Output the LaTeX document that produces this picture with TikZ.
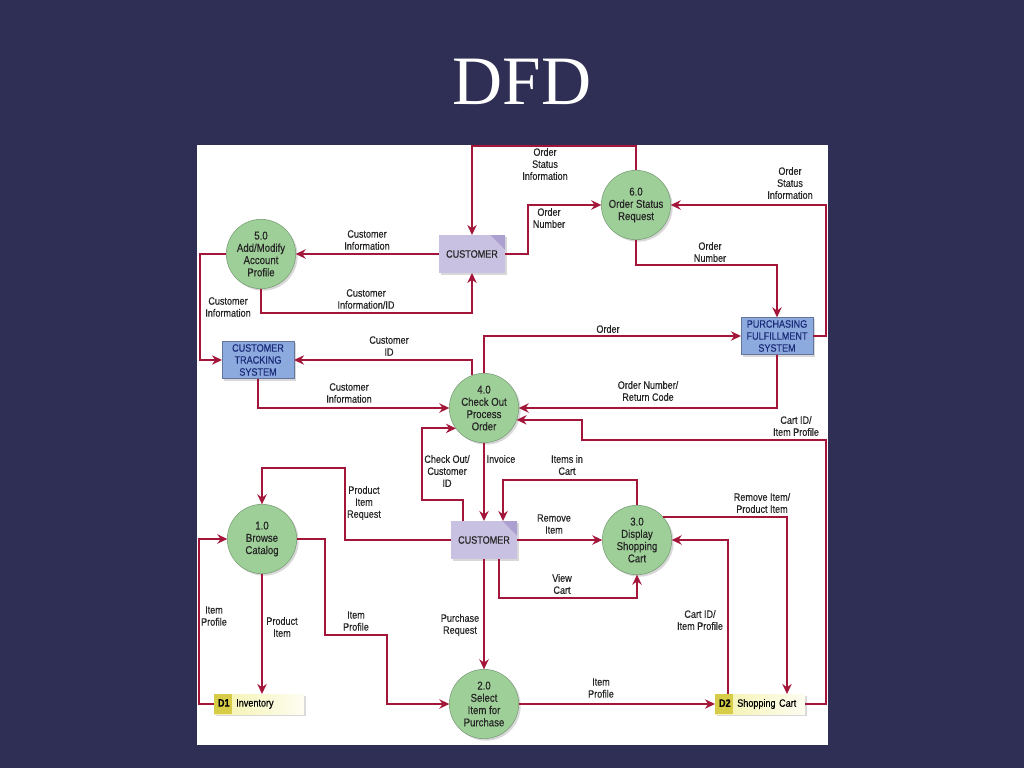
\documentclass[tikz,border=0pt]{standalone}
\usepackage{fontspec}
\usetikzlibrary{arrows.meta,calc,shadows}
\newfontfamily\dfdfont[FakeStretch=0.85,FakeBold=0.35]{Liberation Sans}
\newfontfamily\titlefont{Liberation Serif}

\definecolor{slide}{RGB}{47,46,84}
\definecolor{flowred}{RGB}{163,22,58}
\definecolor{procgreen}{RGB}{158,207,152}
\definecolor{entlilac}{RGB}{201,193,225}
\definecolor{entfold}{RGB}{172,160,208}
\definecolor{sysblue}{RGB}{140,170,222}
\definecolor{sysnavy}{RGB}{28,42,120}
\definecolor{storeyel}{RGB}{244,242,170}
\definecolor{storetab}{RGB}{214,204,72}

\tikzset{
  dfdtext/.style={font=\dfdfont\fontsize{8}{9}\selectfont},
  process/.style={circle, fill=procgreen, draw=procgreen!75!black, line width=0.4pt,
    minimum size=52pt, inner sep=0pt, outer sep=0pt, align=center,
    font=\dfdfont\fontsize{8.5}{9.2}\selectfont, text=black!85,
    drop shadow={shadow xshift=1.5pt, shadow yshift=-1.5pt, opacity=0.3}},
  entity/.style={rectangle, fill=entlilac, minimum width=49.5pt, minimum height=28.5pt,
    inner sep=0pt, outer sep=0pt, dfdtext, text=black!85,
    drop shadow={shadow xshift=1.5pt, shadow yshift=-1.5pt, opacity=0.3},
    path picture={\fill[entfold] (path picture bounding box.north east) -- ++(-11pt,0) -- ++(11pt,-11pt) -- cycle;}},
  extsys/.style={rectangle, fill=sysblue, draw=sysblue!70!black, line width=0.4pt,
    minimum width=54pt, minimum height=28pt, inner sep=0pt, outer sep=0pt,
    align=center, dfdtext, text=sysnavy,
    drop shadow={shadow xshift=1.5pt, shadow yshift=-1.5pt, opacity=0.3}},
  store/.style={rectangle, left color=storeyel, right color=storeyel!15, minimum width=67.5pt,
    minimum height=15pt, text width=61.5pt, inner xsep=3pt, inner ysep=0pt, outer sep=0pt,
    align=left, dfdtext,
    drop shadow={shadow xshift=1.5pt, shadow yshift=-1.5pt, opacity=0.3},
    path picture={\fill[storetab] (path picture bounding box.north west) rectangle ([xshift=13.5pt]path picture bounding box.south west);}},
  flow/.style={draw=flowred, line width=1.6pt, -{Stealth[length=7.5pt,width=7pt]}},
  flowlbl/.style={align=center, inner sep=0pt, dfdtext, text=black!85}
}

\begin{document}
\begin{tikzpicture}[x=0.75pt, y=-0.75pt]
    % slide and panel
    \fill[slide] (0,0) rectangle (1024,768);
    \useasboundingbox (0,0) rectangle (1024,768);
    \fill[white] (197,145) rectangle (828,745);
    \node[font=\titlefont\fontsize{52}{60}\selectfont, text=white] (title) at (522,82) {DFD};

    % Processes
    \node[process] (p5) at (261,254) {5.0\\Add/Modify\\Account\\Profile};
    \node[process] (p6) at (636,205) {6.0\\Order Status\\Request};
    \node[process] (p4) at (484,408) {4.0\\Check Out\\Process\\Order};
    \node[process] (p1) at (262,539) {1.0\\Browse\\Catalog};
    \node[process] (p3) at (637,540) {3.0\\Display\\Shopping\\Cart};
    \node[process] (p2) at (484,704) {2.0\\Select\\Item for\\Purchase};

    % Entities and systems
    \node[entity] (cust1) at (472,254) {CUSTOMER};
    \node[entity] (cust2) at (484,540) {CUSTOMER};
    \node[extsys] (pfs) at (777,336) {PURCHASING\\FULFILLMENT\\SYSTEM};
    \node[extsys] (cts) at (258,360) {CUSTOMER\\TRACKING\\SYSTEM};

    % Data stores
    \node[store] (d1) at (259,704) {\textbf{D1}\hspace{5pt}Inventory};
    \node[store] (d2) at (760,704) {\textbf{D2}\hspace{5pt}Shopping~Cart};

    % Flows, upper half
    \draw[flow] (p6.north) -- (636,146) -| (cust1.north);
    \draw[flow] (cust1.east) -- (528,254) |- (p6.west);
    \draw[flow] (cust1.west) -- (p5.east);
    \draw[flow] (p5.south) -- (261,313) -| (cust1.south);
    \draw[flow] (p5.west) -- (200,254) |- (cts.west);
    \draw[flow] (p6.south) -- (636,265) -| (pfs.north);
    \draw[flow] (pfs.east) -- (826,336) |- (p6.east);
    \draw[flow] (p4.north) |- (pfs.west);
    \draw[flow] (p4.110) |- (cts.east);
    \draw[flow] (cts.south) |- (p4.west);
    \draw[flow] (pfs.south) |- (p4.east);
    \draw[flow] (d2.east) -| (826,440) -- (582,440) |- (p4.-20);
    \draw[flow] ($(cust2.north)+(-21,0)$) -- (463,500) -- (422,500) |- (p4.-144);
    \draw[flow] (p4.south) -- (cust2.north);

    % Flows, lower half
    \draw[flow] (p3.north) -- (637,480) -| ($(cust2.north)+(19,0)$);
    \draw[flow] (cust2.west) -- (345,540) -- (345,468) -| (p1.north);
    \draw[flow] (cust2.east) -- (p3.west);
    \draw[flow] ($(cust2.south)+(15,0)$) -- (499,598) -| (p3.south);
    \draw[flow] (p3.41) -| ($(d2.north)+(27,0)$);
    \draw[flow] ($(d2.north)+(-32,0)$) |- (p3.east);
    \draw[flow] (p2.east) -- (d2.west);
    \draw[flow] (cust2.south) -- (p2.north);
    \draw[flow] (p1.east) -| (325,635) -- (387,635) |- (p2.west);
    \draw[flow] (p1.south) -- (p1.south |- d1.north);
    \draw[flow] (d1.west) -- (199,704) |- (p1.west);

    % Flow labels
    \node[flowlbl] (lStatTop) at (545,164) {Order\\Status\\Information};
    \node[flowlbl] (lNumTop) at (549,218) {Order\\Number};
    \node[flowlbl] (lInfo5) at (367,240) {Customer\\Information};
    \node[flowlbl] (lInfoId) at (366,299) {Customer\\Information/ID};
    \node[flowlbl] (lInfoCts) at (228,307) {Customer\\Information};
    \node[flowlbl] (lNumPfs) at (710,252) {Order\\Number};
    \node[flowlbl] (lStatPfs) at (790,183) {Order\\Status\\Information};
    \node[flowlbl] (lOrder) at (608,329) {Order};
    \node[flowlbl] (lCustId) at (389,346) {Customer\\ID};
    \node[flowlbl] (lInfo4) at (349,393) {Customer\\Information};
    \node[flowlbl] (lReturn) at (648,391) {Order Number/\\Return Code};
    \node[flowlbl] (lCartTop) at (796,426) {Cart ID/\\Item Profile};
    \node[flowlbl] (lCheck) at (447,471) {Check Out/\\Customer\\ID};
    \node[flowlbl] (lInvoice) at (501,459) {Invoice};
    \node[flowlbl] (lItems) at (567,465) {Items in\\Cart};
    \node[flowlbl] (lReq) at (364,503) {Product\\Item\\Request};
    \node[flowlbl] (lRemove) at (554,524) {Remove\\Item};
    \node[flowlbl] (lView) at (562,584) {View\\Cart};
    \node[flowlbl] (lRemProd) at (762,503) {Remove Item/\\Product Item};
    \node[flowlbl] (lCartLow) at (700,620) {Cart ID/\\Item Profile};
    \node[flowlbl] (lProfD2) at (601,688) {Item\\Profile};
    \node[flowlbl] (lPurch) at (460,625) {Purchase\\Request};
    \node[flowlbl] (lProfMid) at (356,621) {Item\\Profile};
    \node[flowlbl] (lProdItem) at (282,627) {Product\\Item};
    \node[flowlbl] (lProfLeft) at (214,616) {Item\\Profile};
\end{tikzpicture}
\end{document}
